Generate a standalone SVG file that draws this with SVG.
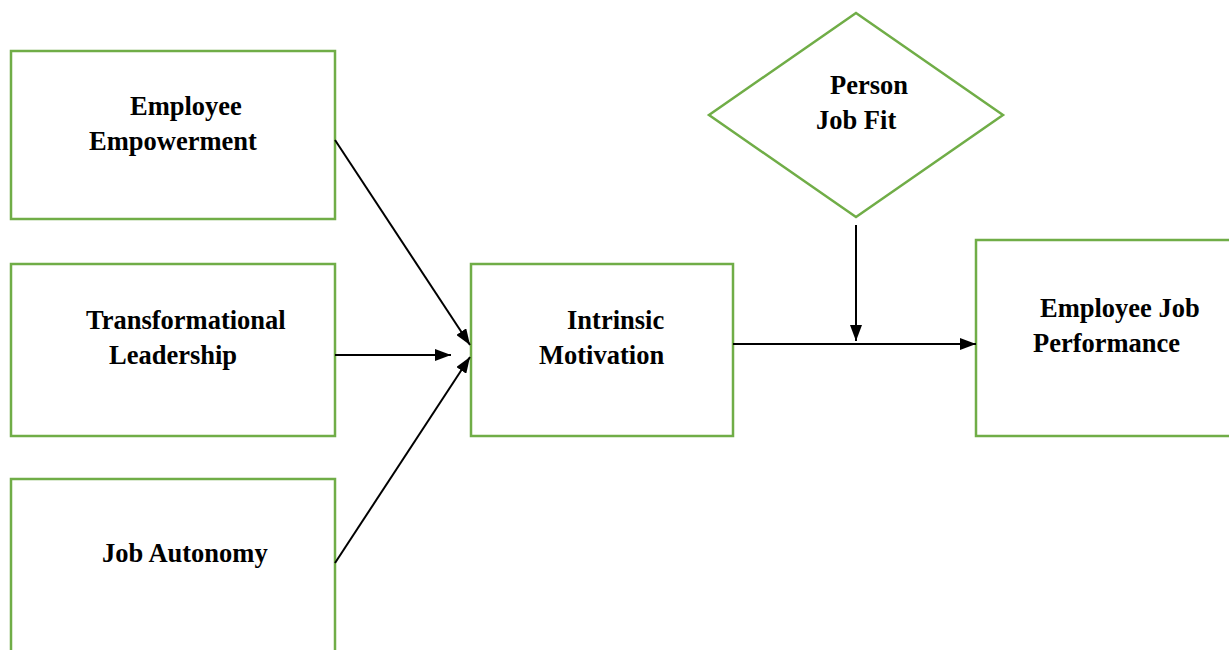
<svg xmlns="http://www.w3.org/2000/svg" width="1229" height="650" viewBox="0 0 1229 650">
<style>
.box{fill:#fff;stroke:#70AD47;stroke-width:2.5}
.lbl{font-family:"Liberation Serif","Times New Roman",serif;font-weight:bold;font-size:26.5px;fill:#000}
.con{stroke:#000;stroke-width:2;fill:none;marker-end:url(#ah)}
</style>
<defs>
<marker id="ah" viewBox="0 0 16 12" refX="16" refY="6" markerWidth="16" markerHeight="12" markerUnits="userSpaceOnUse" orient="auto">
<path d="M0,0 L16,6 L0,12 Z" fill="#000"/>
</marker>
</defs>
<rect width="1229" height="650" fill="#fff"/>
<g id="employee-empowerment">
<rect class="box" x="11" y="51" width="324" height="168"/>
<text class="lbl" x="130" y="115">Employee</text>
<text class="lbl" x="89" y="150">Empowerment</text>
</g>
<g id="transformational-leadership">
<rect class="box" x="11" y="264" width="324" height="172"/>
<text class="lbl" x="86" y="329">Transformational</text>
<text class="lbl" x="109" y="364">Leadership</text>
</g>
<g id="job-autonomy">
<rect class="box" x="11" y="479" width="324" height="190"/>
<text class="lbl" x="102" y="562">Job Autonomy</text>
</g>
<g id="intrinsic-motivation">
<rect class="box" x="471" y="264" width="262" height="172"/>
<text class="lbl" x="567" y="329">Intrinsic</text>
<text class="lbl" x="539" y="364">Motivation</text>
</g>
<g id="person-job-fit">
<polygon class="box" points="856,13 1003,115 856,217 709,115"/>
<text class="lbl" x="830" y="94">Person</text>
<text class="lbl" x="816" y="129">Job Fit</text>
</g>
<g id="employee-job-performance">
<rect class="box" x="976" y="240" width="270" height="196"/>
<text class="lbl" x="1040" y="317">Employee Job</text>
<text class="lbl" x="1033" y="352">Performance</text>
</g>
<g id="connectors">
<line class="con" x1="335" y1="140" x2="470" y2="345"/>
<line class="con" x1="335" y1="355" x2="451" y2="355"/>
<line class="con" x1="335" y1="563" x2="470" y2="357"/>
<line class="con" x1="733" y1="344" x2="976" y2="344"/>
<line class="con" x1="856" y1="225" x2="856" y2="341"/>
</g>
</svg>
